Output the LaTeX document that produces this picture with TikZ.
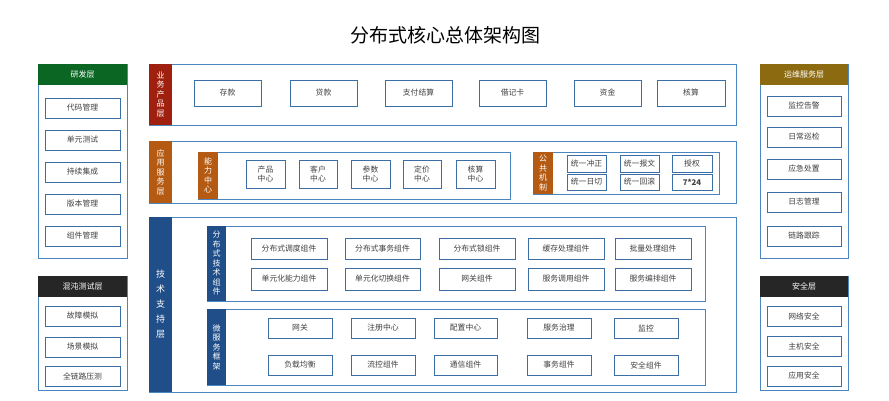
\documentclass[tikz,border=0pt]{standalone}
\usepackage{fontspec}
\setmainfont{Noto Sans CJK SC}
\begin{document}
\begin{tikzpicture}[x=1pt,y=-1pt,
  outer/.style={draw=blue!50!cyan!60!black!70, line width=1pt, fill=white},
  item/.style={draw=blue!55!black!75, line width=0.9pt, fill=white, font=\fontsize{7.8}{9}\selectfont, text=black!75, inner sep=0pt, align=center},
  band/.style={text=white, font=\fontsize{8}{9.5}\selectfont, align=center, inner sep=0pt},
  hdr/.style={text=white, font=\fontsize{8}{9}\selectfont}
]
\definecolor{bord}{HTML}{4A86C0}
\definecolor{ibord}{HTML}{3A6EA5}
\definecolor{gr}{HTML}{0B6623}
\definecolor{dred}{HTML}{A0200F}
\definecolor{orb}{HTML}{B45A12}
\definecolor{dblue}{HTML}{1F4E89}
\definecolor{olive}{HTML}{8C6A10}
\tikzset{outer/.append style={draw=bord}, item/.append style={draw=ibord}}
\useasboundingbox (0,0) rectangle (889,400);
\node[font=\fontsize{19}{22}\selectfont] (title) at (445,35) {分布式核心总体架构图};
% helper
\newcommand{\itm}[6]{\node[item, minimum width=#3-#2, minimum height=#5-#4] (#1) at ({(#2+#3)/2},{(#4+#5)/2}) {#6};}
% left panels
\draw[outer] (38,64) rectangle (127,258);
\fill[gr] (38,64) rectangle (127,85);
\node[hdr] (rd) at (82.5,74.5) {研发层};
\itm{l1}{45}{120}{98}{118}{代码管理}
\itm{l2}{45}{120}{130}{150}{单元测试}
\itm{l3}{45}{120}{162}{182}{持续集成}
\itm{l4}{45}{120}{194}{214}{版本管理}
\itm{l5}{45}{120}{226}{246}{组件管理}
\draw[outer] (38,276) rectangle (127,390);
\fill[black!85] (38,276) rectangle (127,297);
\node[hdr] (hd) at (82.5,286.5) {混沌测试层};
\itm{m1}{45}{120}{306}{326}{故障模拟}
\itm{m2}{45}{120}{337}{357}{场景模拟}
\itm{m3}{45}{120}{366}{386}{全链路压测}
% right panels
\draw[outer] (760,64) rectangle (848,258);
\fill[olive] (760,64) rectangle (848,85);
\node[hdr] (yw) at (804,74.5) {运维服务层};
\itm{r1}{767}{841}{96}{116}{监控告警}
\itm{r2}{767}{841}{127}{147}{日常巡检}
\itm{r3}{767}{841}{159}{179}{应急处置}
\itm{r4}{767}{841}{192}{212}{日志管理}
\itm{r5}{767}{841}{226}{246}{链路跟踪}
\draw[outer] (760,276) rectangle (848,390);
\fill[black!85] (760,276) rectangle (848,297);
\node[hdr] (aq) at (804,286.5) {安全层};
\itm{s1}{767}{841}{306}{326}{网络安全}
\itm{s2}{767}{841}{336}{356}{主机安全}
\itm{s3}{767}{841}{366}{386}{应用安全}
% business
\draw[outer] (149,64) rectangle (736,125);
\fill[dred] (149,64) rectangle (172,125);
\node[band] (yb) at (160.5,94.5) {业\\务\\产\\品\\层};
\itm{b1}{194}{261}{80}{106}{存款}
\itm{b2}{290}{357}{80}{106}{贷款}
\itm{b3}{385}{452}{80}{106}{支付结算}
\itm{b4}{479}{546}{80}{106}{借记卡}
\itm{b5}{574}{641}{80}{106}{资金}
\itm{b6}{657}{725}{80}{106}{核算}
% app
\draw[outer] (149,141) rectangle (736,203);
\fill[orb] (149,141) rectangle (172,203);
\node[band] (ya) at (160.5,172) {应\\用\\服\\务\\层};
\draw[outer] (198,152) rectangle (510,199);
\fill[orb] (198,152) rectangle (218,199);
\node[band] (nl) at (208,175.5) {能\\力\\中\\心};
\itm{a1}{246}{285}{160}{188}{产品\\中心}
\itm{a2}{299}{337}{160}{188}{客户\\中心}
\itm{a3}{351}{390}{160}{188}{参数\\中心}
\itm{a4}{403}{441}{160}{188}{定价\\中心}
\itm{a5}{456}{495}{160}{188}{核算\\中心}
\draw[outer] (533,152) rectangle (719,194);
\fill[orb] (533,152) rectangle (553,194);
\node[band] (gg) at (543,173) {公\\共\\机\\制};
\itm{c1}{567}{606}{155}{172}{统一冲正}
\itm{c2}{620}{659}{155}{172}{统一报文}
\itm{c3}{672}{712}{155}{172}{授权}
\itm{c4}{567}{606}{174}{190}{统一日切}
\itm{c5}{620}{659}{174}{190}{统一回滚}
\itm{c6}{672}{712}{174}{190}{\bfseries 7*24}
% tech
\draw[outer] (149,217) rectangle (736,392);
\fill[dblue] (149,217) rectangle (172,392);
\node[band, font=\fontsize{9}{15}\selectfont] (js) at (160.5,304) {技\\术\\支\\持\\层};
\draw[outer] (207,226) rectangle (705,301);
\fill[dblue] (207,226) rectangle (226,301);
\node[band] (fb) at (216.5,263.5) {分\\布\\式\\技\\术\\组\\件};
\itm{t1}{251}{327}{238}{259}{分布式调度组件}
\itm{t2}{345}{420}{238}{259}{分布式事务组件}
\itm{t3}{439}{515}{238}{259}{分布式锁组件}
\itm{t4}{528}{604}{238}{259}{缓存处理组件}
\itm{t5}{615}{691}{238}{259}{批量处理组件}
\itm{t6}{251}{327}{268}{290}{单元化能力组件}
\itm{t7}{345}{420}{268}{290}{单元化切换组件}
\itm{t8}{439}{515}{268}{290}{网关组件}
\itm{t9}{528}{604}{268}{290}{服务调用组件}
\itm{t10}{615}{691}{268}{290}{服务编排组件}
\draw[outer] (207,309) rectangle (705,385);
\fill[dblue] (207,309) rectangle (226,385);
\node[band] (wf) at (216.5,347) {微\\服\\务\\框\\架};
\itm{w1}{268}{332}{318}{338}{网关}
\itm{w2}{351}{415}{318}{338}{注册中心}
\itm{w3}{434}{497}{318}{338}{配置中心}
\itm{w4}{527}{591}{318}{338}{服务治理}
\itm{w5}{614}{678}{318}{338}{监控}
\itm{w6}{268}{332}{355}{375}{负载均衡}
\itm{w7}{351}{415}{355}{375}{流控组件}
\itm{w8}{434}{497}{355}{375}{通信组件}
\itm{w9}{527}{591}{355}{375}{事务组件}
\itm{w10}{614}{678}{355}{375}{安全组件}
\end{tikzpicture}
\end{document}
